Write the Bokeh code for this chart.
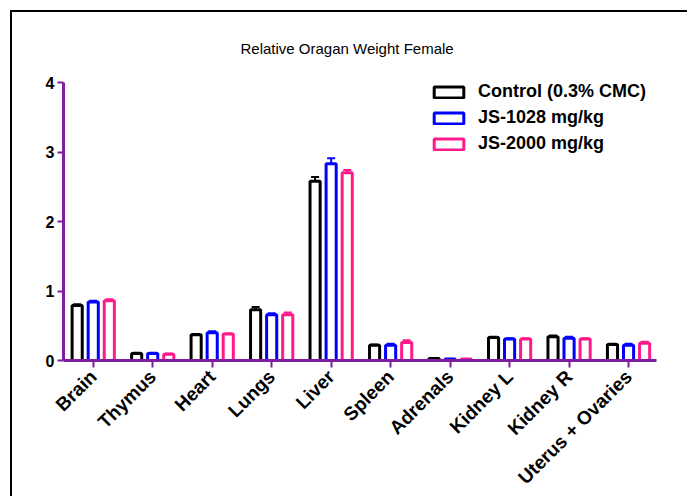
import math
from bokeh.plotting import figure
from bokeh.models import (Range1d, FixedTicker, Legend, LegendItem,
                          Whisker, TeeHead, ColumnDataSource)
from bokeh.embed import file_html
from bokeh.resources import INLINE

organs = ["Brain", "Thymus", "Heart", "Lungs", "Liver", "Spleen", "Adrenals",
          "Kidney L", "Kidney R", "Uterus + Ovaries"]
series_names = ["Control (0.3% CMC)", "JS-1028 mg/kg", "JS-2000 mg/kg"]
control = [0.79, 0.10, 0.37, 0.73, 2.58, 0.22, 0.03, 0.33, 0.34, 0.23]
js1028 = [0.84, 0.10, 0.40, 0.66, 2.83, 0.22, 0.02, 0.31, 0.32, 0.22]
js2000 = [0.86, 0.09, 0.38, 0.66, 2.70, 0.26, 0.02, 0.31, 0.31, 0.25]
control_err = [0.02, 0.01, 0.01, 0.04, 0.06, 0.01, 0.003, 0.01, 0.02, 0.01]
js1028_err = [0.02, 0.01, 0.02, 0.02, 0.08, 0.02, 0.003, 0.01, 0.02, 0.02]
js2000_err = [0.02, 0.01, 0.01, 0.03, 0.04, 0.03, 0.003, 0.01, 0.01, 0.02]
y_ticks = [0, 1, 2, 3, 4]

colors = ["#000000", "#0000FF", "#FF1A8C"]
offsets = [-0.27, 0.0, 0.27]
AXIS = "#7F1F9F"
FONT = "Liberation Sans"

p = figure(width=677, height=486, output_backend="svg", toolbar_location=None,
           x_range=Range1d(-0.5, 9.47), y_range=Range1d(0, 4),
           min_border_left=51, min_border_right=33, min_border_top=70,
           min_border_bottom=135,
           title="Relative Oragan Weight Female")
p.margin = (10, 0, 0, 10)
p.styles = {"border-top": "2px solid black", "border-left": "2px solid black"}
p.outline_line_color = None
p.grid.visible = False
p.background_fill_color = "white"
p.border_fill_color = "white"

p.title.align = "left"
p.title.offset = 177
p.title.standoff = 50
p.title.vertical_align = "middle"
p.title.text_font = FONT
p.title.text_font_size = "15px"
p.title.text_font_style = "normal"
p.title.text_color = "black"

items = []
for vals, errs, col, off, name in zip([control, js1028, js2000],
                                      [control_err, js1028_err, js2000_err],
                                      colors, offsets, series_names):
    xs = [i + off for i in range(len(organs))]
    src = ColumnDataSource(dict(x=xs, top=vals,
                                up=[v + e for v, e in zip(vals, errs)]))
    w = Whisker(source=src, base="x", lower="top", upper="up",
                dimension="height", line_color=col, line_width=2,
                upper_head=TeeHead(size=8, line_color=col, line_width=2),
                lower_head=None)
    p.add_layout(w)
    r = p.vbar(x="x", top="top", bottom=0, width=0.17, source=src,
               fill_color="white", line_color=col, line_width=3)
    items.append(LegendItem(label=name, renderers=[r]))

legend = Legend(items=items, location=(367, 206), padding=0, margin=0,
                spacing=5, glyph_width=37, glyph_height=14, label_height=20,
                label_standoff=11, border_line_color=None,
                background_fill_alpha=0,
                label_text_font=FONT, label_text_font_style="bold",
                label_text_font_size="18px", label_text_color="black")
p.add_layout(legend)

xa = p.xaxis[0]
xa.ticker = FixedTicker(ticks=list(range(len(organs))))
xa.major_label_overrides = {i: n for i, n in enumerate(organs)}
xa.major_label_orientation = math.pi / 4
xa.axis_line_color = AXIS
xa.axis_line_width = 3
xa.major_tick_line_color = AXIS
xa.major_tick_line_width = 2
xa.major_tick_out = 7
xa.major_tick_in = 0
xa.minor_tick_line_color = None
xa.major_label_text_font = FONT
xa.major_label_text_font_style = "bold"
xa.major_label_text_font_size = "19px"
xa.major_label_text_color = "black"
xa.major_label_standoff = 6

ya = p.yaxis[0]
ya.ticker = FixedTicker(ticks=y_ticks)
ya.axis_line_color = AXIS
ya.axis_line_width = 3
ya.major_tick_line_color = AXIS
ya.major_tick_line_width = 2
ya.major_tick_out = 6
ya.major_tick_in = 0
ya.minor_tick_line_color = None
ya.major_label_text_font = FONT
ya.major_label_text_font_style = "bold"
ya.major_label_text_font_size = "16px"
ya.major_label_text_color = "black"
ya.major_label_standoff = 3

open("out.html", "w").write(file_html(p, INLINE))
